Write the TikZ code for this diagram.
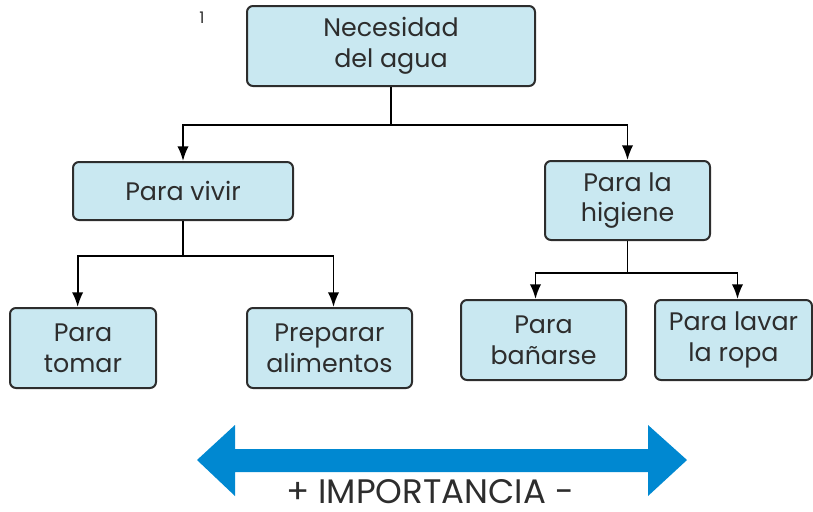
\documentclass[tikz,border=0pt]{standalone}
\usepackage{fontspec}
\setmainfont{Poppins}
\usetikzlibrary{arrows.meta,calc}
\definecolor{box_blue}{RGB}{201,232,241}
\definecolor{box_line}{RGB}{45,45,45}
\definecolor{arrow_blue}{RGB}{0,136,209}
\tikzstyle{bn}=[rectangle,rounded corners=0.45em,fill=box_blue,draw=box_line,
  line width=1.5pt,inner sep=0pt,align=center,text=box_line,
  font=\fontsize{19}{23}\selectfont]
\tikzstyle{ln}=[draw=black,line width=1.4pt]
\tikzstyle{ar}=[-{Latex[length=11pt,width=8.5pt]}]

\begin{document}
\begin{tikzpicture}[x=0.75pt,y=-0.75pt]
        \useasboundingbox (0,0) rectangle (813,511);
        \node[style=bn,minimum width=216pt,minimum height=60pt] (0) at (391,46) {Necesidad\\del agua};
        \node[style=bn,minimum width=165pt,minimum height=43.5pt] (1) at (183,191) {Para vivir};
        \node[style=bn,minimum width=123.75pt,minimum height=59.25pt] (2) at (627.5,200.5) {Para la\\higiene};
        \node[style=bn,minimum width=109.5pt,minimum height=60pt] (3) at (83,348) {Para\\tomar};
        \node[style=bn,minimum width=123.75pt,minimum height=60pt] (4) at (329.5,348) {Preparar\\alimentos};
        \node[style=bn,minimum width=123.75pt,minimum height=60pt] (5) at (543.5,340) {Para\\bañarse};
        \node[style=bn,minimum width=117.75pt,minimum height=60pt] (6) at (733.5,340) {Para lavar\\la ropa};
        \node[text=box_line,font=\fontsize{12}{12}\selectfont] (7) at (202,18) {1};
        \coordinate (8) at (391,125);
        \coordinate (9) at (183,256);
        \coordinate (10) at (627.5,273);
        \draw[style=ln] (0) to (8);
        \draw[style=ln,style=ar] (8) -| (1);
        \draw[style=ln,style=ar] (8) -| (2);
        \draw[style=ln] (1) to (9);
        \draw[style=ln,style=ar] (9) -| ([xshift=-4pt]3.north);
        \draw[style=ln,style=ar] (9) -| ([xshift=3pt]4.north);
        \draw[style=ln] (2) to (10);
        \draw[style=ln,style=ar] (10) -| ([xshift=-6pt]5.north);
        \draw[style=ln,style=ar] (10) -| ([xshift=3pt]6.north);
        \fill[arrow_blue] (197,460) -- (235,425) -- (235,449) -- (648,449) -- (648,425)
          -- (687,460) -- (648,496) -- (648,472) -- (235,472) -- (235,496) -- cycle;
        \node[anchor=base,inner sep=0pt,text=box_line,font=\fontsize{25.5}{25.5}\selectfont] (11) at (430,503) {+ IMPORTANCIA -};
    \end{tikzpicture}
\end{document}
